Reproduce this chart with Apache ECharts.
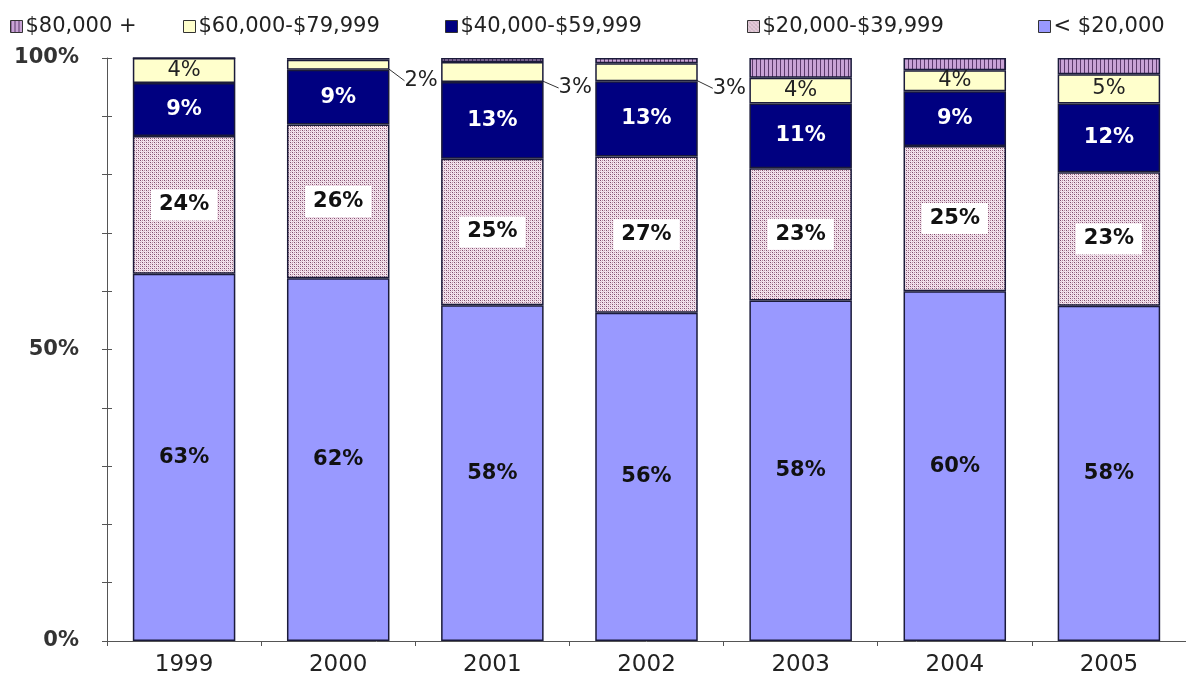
<!DOCTYPE html>
<html><head><meta charset="utf-8">
<script src="https://cdn.jsdelivr.net/npm/echarts@6/dist/echarts.min.js"></script>
<style>html,body{margin:0;padding:0;background:#fff}#c{width:1186px;height:690px}</style>
</head><body><div id="c"></div>
<script>
// ---- data ----
const categories = ['1999', '2000', '2001', '2002', '2003', '2004', '2005'];
const seriesNames = ['$80,000 +', '$60,000-$79,999', '$40,000-$59,999', '$20,000-$39,999', '< $20,000'];
const under20k   = [63.0, 62.2, 57.6, 56.3, 58.4, 60.0, 57.5];
const k20to40    = [23.6, 26.4, 25.1, 26.8, 22.7, 24.9, 22.9];
const k40to60    = [9.1, 9.4, 13.2, 12.9, 11.1, 9.4, 11.8];
const k60to80    = [4.3, 1.7, 3.4, 3.1, 4.4, 3.6, 5.0];
const over80k    = [0.0, 0.3, 0.7, 0.9, 3.4, 2.1, 2.8];
const yTickLabels = [0, 50, 100];

// ---- patterns ----
function stripePattern() {
  const c = document.createElement('canvas'); c.width = 4; c.height = 4;
  const g = c.getContext('2d');
  g.fillStyle = '#C9A3D6'; g.fillRect(0, 0, 4, 4);
  g.fillStyle = '#5B3A6B'; g.fillRect(0, 0, 1, 4);
  return { image: c, repeat: 'repeat' };
}
function dotPattern() {
  const c = document.createElement('canvas'); c.width = 4; c.height = 4;
  const g = c.getContext('2d');
  g.fillStyle = '#F3E4EE'; g.fillRect(0, 0, 4, 4);
  g.fillStyle = '#7E4C6C'; g.fillRect(0, 0, 1, 1); g.fillRect(2, 2, 1, 1);
  g.fillStyle = '#B8889F'; g.fillRect(2, 0, 1, 1); g.fillRect(0, 2, 1, 1);
  g.fillStyle = '#E2C8D6'; g.fillRect(1, 1, 1, 1); g.fillRect(3, 3, 1, 1);
  return { image: c, repeat: 'repeat' };
}

const FONT = 'DejaVu Sans, Liberation Sans, Arial, sans-serif';
const border = { borderColor: '#1b1b3a', borderWidth: 1.5 };
const fmt = p => Math.round(p.value) + '%';

function mk(name, values, color, labelOpt, extra) {
  return Object.assign({
    name: name, type: 'bar', stack: 'total', barCategoryGap: '33.5%',
    itemStyle: Object.assign({ color: color }, border),
    label: Object.assign({ show: true, position: 'inside', formatter: fmt,
      fontFamily: FONT, fontWeight: 'bold', fontSize: 21 }, labelOpt),
    emphasis: { disabled: true },
    data: values.slice()
  }, extra || {});
}

const s60 = mk(seriesNames[1], k60to80, '#FFFFCC', { color: '#222', fontWeight: 'normal' }, {
  labelLine: { show: true, lineStyle: { color: '#333', width: 1 } },
  labelLayout: function (p) {
    if (k60to80[p.dataIndex] < 3.5) return { dx: 10, dy: 16 };
    return {};
  }
});
s60.data = k60to80.map(v => v < 3.5
  ? { value: v, label: { position: 'right', fontWeight: 'normal', color: '#222' } }
  : v);

const series = [
  mk(seriesNames[4], under20k, '#9999FF', { color: '#111' }),
  mk(seriesNames[3], k20to40, dotPattern(), { color: '#111', backgroundColor: '#fff', padding: [6, 8, 4, 8] }),
  mk(seriesNames[2], k40to60, '#000080', { color: '#fff' }),
  s60,
  mk(seriesNames[0], over80k, stripePattern(), { show: false })
];

const legendLefts = [5, 178, 440, 742, 1033];
const legends = seriesNames.map((n, i) => ({
  data: [n], top: 11, left: legendLefts[i], itemWidth: 12, itemHeight: 12, icon: 'rect',
  itemStyle: { borderColor: '#333', borderWidth: 1 },
  textStyle: { fontSize: 21, color: '#222', fontFamily: FONT, padding: [0, 0, 0, -2] }
}));

const chart = echarts.init(document.getElementById('c'), null, { renderer: 'canvas' });
chart.setOption({
  animation: false,
  backgroundColor: '#fff',
  textStyle: { fontFamily: FONT },
  legend: legends,
  grid: { left: 107, right: -9, top: 58, bottom: 49, containLabel: false },
  xAxis: {
    type: 'category', data: categories,
    axisLine: { lineStyle: { color: '#555', width: 1 } },
    axisTick: { show: true, length: 5, lineStyle: { color: '#555' } },
    axisLabel: { fontSize: 23, color: '#222', margin: 13, fontFamily: FONT }
  },
  yAxis: [{
    type: 'value', min: 0, max: 100, interval: 10,
    axisLine: { show: true, lineStyle: { color: '#555', width: 1 } },
    axisTick: { show: true, length: 5, lineStyle: { color: '#555' } },
    splitLine: { show: false },
    axisLabel: { margin: 28, fontSize: 21, fontWeight: 'bold', color: '#333', fontFamily: FONT,
      formatter: v => yTickLabels.indexOf(v) >= 0 ? v + '%' : '' }
  }, {
    type: 'value', min: 0, max: 100, interval: 10, position: 'left',
    axisLine: { show: false },
    axisTick: { show: true, inside: true, length: 5, lineStyle: { color: '#555' } },
    splitLine: { show: false }, axisLabel: { show: false }
  }],
  series: series
});
</script>
</body></html>
